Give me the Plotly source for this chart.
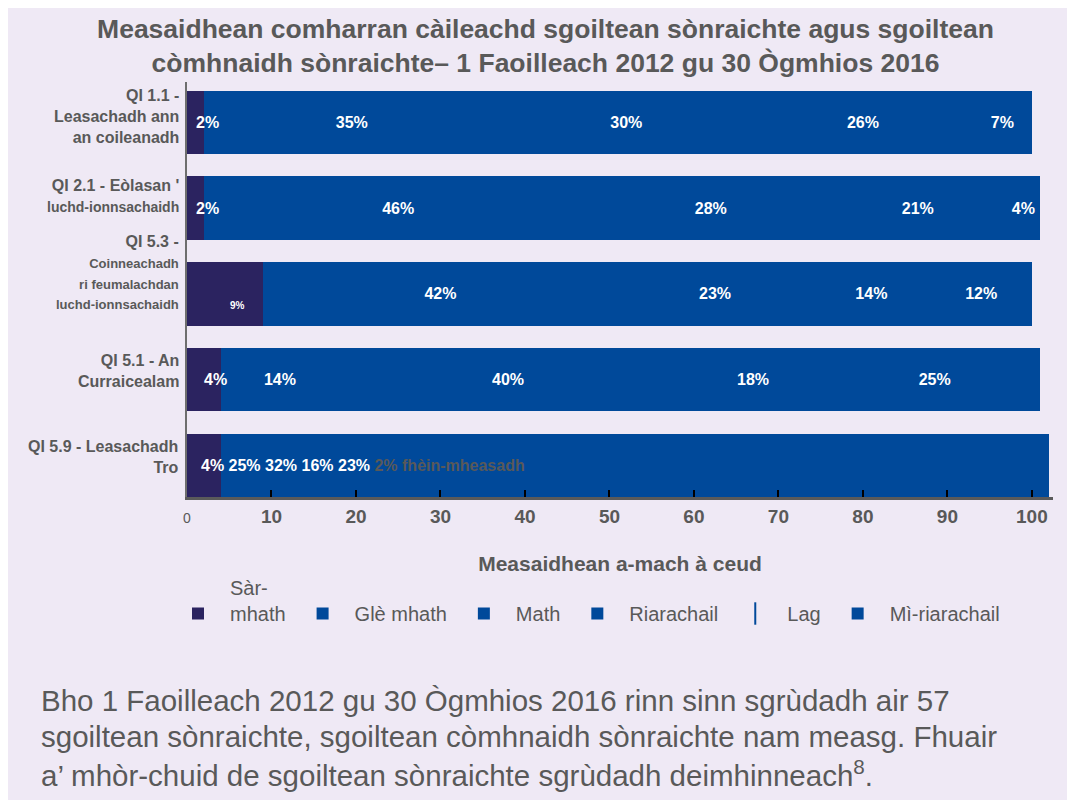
import plotly.graph_objects as go

# ---------------- data ----------------
categories = [
    "QI 1.1 -<br>Leasachadh ann<br>an coileanadh",
    "QI 2.1 - Eòlasan '<br><span style='font-size:14px'>luchd-ionnsachaidh</span>",
    "QI 5.3 -<br><span style='font-size:13px'>Coinneachadh</span><br><span style='font-size:13px'>ri feumalachdan</span><br><span style='font-size:13px'>luchd-ionnsachaidh</span>",
    "QI 5.1 - An<br>Curraicealam",
    "QI 5.9 - Leasachadh<br>Tro",
]
series_names = ["Sàr-<br>mhath", "<br>Glè mhath", "<br>Math", "<br>Riarachail", "<br>Lag", "<br>Mì-riarachail"]
sar_mhath = [2, 2, 9, 4, 4]
gle_mhath = [35, 46, 42, 14, 25]
math_vals = [30, 28, 23, 40, 32]
riarachail = [26, 21, 14, 18, 16]
lag = [7, 4, 12, 25, 23]
mi_riarachail = [0, 0, 0, 0, 2]
series_values = [sar_mhath, gle_mhath, math_vals, riarachail, lag, mi_riarachail]
labelled_rows = [True, True, True, True, False]   # last row labelled by a text note
last_row_note = "fhèin-mheasadh"
x_ticks = [0, 10, 20, 30, 40, 50, 60, 70, 80, 90, 100]

title_text = ("Measaidhean comharran càileachd sgoiltean sònraichte agus sgoiltean<br>"
              "còmhnaidh sònraichte– 1 Faoilleach 2012 gu 30 Ògmhios 2016")
x_title = "Measaidhean a-mach à ceud"
footer_lines = [
    "Bho 1 Faoilleach 2012 gu 30 Ògmhios 2016 rinn sinn sgrùdadh air 57",
    "sgoiltean sònraichte, sgoiltean còmhnaidh sònraichte nam measg. Fhuair",
    "a’ mhòr-chuid de sgoiltean sònraichte sgrùdadh deimhinneach<sup>8</sup>.",
]

# ---------------- styling ----------------
DARK = "#2b2360"
BLUE = "#00499a"
GREY = "#595959"
BG = "#efe9f5"
colors = [DARK, BLUE, BLUE, BLUE, BLUE, BLUE]
line_legend = [False, False, False, False, True, False]   # series shown as a thin line in legend
FONT = "Liberation Sans, Arial, sans-serif"
label_yshift = [6, 12, 21, 9, 8]          # vertical nudge of the row labels (px)

W, H = 1075, 800
L, R, T, B = 179, 30, 74, 311
PW, PH = W - L - R, H - T - B


def px_x(px):
    return (px - L) / PW


def px_y(py):
    return (H - B - py) / PH


fig = go.Figure()
for i, (name, vals) in enumerate(zip(series_names, series_values)):
    texts = []
    for j, v in enumerate(vals):
        show = labelled_rows[j] and v > 0 and i > 0
        texts.append(f"{v}%" if show else "")
    fig.add_trace(go.Bar(
        y=list(range(len(categories))), x=vals, name=name, orientation="h",
        marker=dict(color=colors[i], line=dict(width=0)),
        text=texts, textposition="inside", insidetextanchor="middle",
        constraintext="none", textangle=0, cliponaxis=False,
        textfont=dict(color="white", size=16, family=FONT, weight="bold"),
        width=0.74, hoverinfo="x", legendgroup=name, showlegend=not line_legend[i],
        legendrank=i + 1,
    ))
    if line_legend[i]:
        fig.add_trace(go.Scatter(
            x=[None], y=[None], mode="markers", name=name, legendgroup=name,
            marker=dict(symbol="line-ns", size=16, color=colors[i],
                        line=dict(width=2, color=colors[i])),
            legendrank=i + 1, hoverinfo="skip",
        ))

# labels of the first (dark) segment
for j, v in enumerate(sar_mhath):
    if labelled_rows[j]:
        small = v >= 9
        fig.add_annotation(
            x=v / 2, y=j, xref="x", yref="y", xshift=12, yshift=-12 if small else 0,
            text=f"{v}%", showarrow=False,
            font=dict(color="white", size=10 if small else 16, family=FONT, weight="bold"),
        )

# row labels
for j, lab in enumerate(categories):
    fig.add_annotation(
        x=0, y=j, xref="paper", yref="y", xanchor="right", xshift=-6, yshift=label_yshift[j],
        text=lab, showarrow=False, align="right",
        font=dict(color=GREY, size=16, family=FONT, weight="bold"),
    )

# note on last row, built from data
last = len(categories) - 1
note_main = " ".join(f"{vals[last]}%" for vals in series_values[:-1])
note_grey = f"{series_values[-1][last]}% {last_row_note}"
fig.add_annotation(
    x=0, y=last, xref="x", yref="y", xanchor="left", xshift=12,
    text=f"{note_main} <span style='color:{GREY}'>{note_grey}</span>",
    showarrow=False, font=dict(color="white", size=16, family=FONT, weight="bold"),
)

for k, line in enumerate(footer_lines):
    fig.add_annotation(
        x=px_x(31), y=px_y([692, 728, 765][k]), xref="paper", yref="paper",
        xanchor="left", yanchor="middle", text=line, showarrow=False, align="left",
        font=dict(color=GREY, size=29.5, family=FONT),
    )

ticktext = [f"<span style='font-size:14px;font-weight:normal'>{t}</span>" if t == 0 else str(t) for t in x_ticks]

fig.update_layout(
    width=W, height=H,
    margin=dict(l=L, r=R, t=T, b=B),
    barmode="stack",
    paper_bgcolor=BG, plot_bgcolor=BG,
    font=dict(family=FONT, color=GREY),
    title=dict(text=title_text, x=0.5, xanchor="center", y=1 - 30 / H, yanchor="middle",
               font=dict(size=26.5, color=GREY, family=FONT, weight="bold")),
    xaxis=dict(range=[0, 102.5], tickvals=x_ticks, ticktext=ticktext,
               showgrid=False, zeroline=False, showline=True, linecolor="#5a5a5a", linewidth=3,
               ticks="inside", ticklen=7, tickwidth=2, tickcolor="black",
               tickfont=dict(size=19, color=GREY, family=FONT, weight="bold"),
               title=dict(text=x_title, standoff=31,
                          font=dict(size=21, color=GREY, family=FONT, weight="bold"))),
    yaxis=dict(range=[4.37, -0.47], showgrid=False, zeroline=False, showticklabels=False,
               showline=True, linecolor="#6e6e6e", linewidth=2, ticks=""),
    legend=dict(orientation="h", x=px_x(158), xanchor="left", y=px_y(560), yanchor="top",
                font=dict(size=20, color=GREY, family=FONT), itemwidth=54, valign="bottom",
                traceorder="normal", bgcolor="rgba(0,0,0,0)"),
    showlegend=True,
)

fig.write_html("out.html")
